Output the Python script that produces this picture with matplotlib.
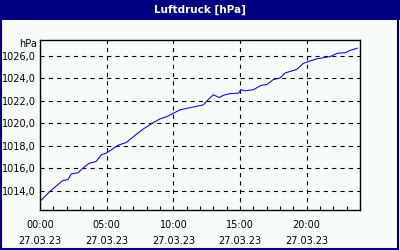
import matplotlib
matplotlib.use('Agg')
import matplotlib.pyplot as plt
from matplotlib.patches import Rectangle
from matplotlib.ticker import FixedLocator, MultipleLocator, FuncFormatter

# Pressure readings over the day (hours since midnight, hPa)
hours = [0.0, 0.8, 1.7, 2.1, 2.35, 2.85, 3.2, 3.7, 4.2, 4.6, 4.97, 5.85, 6.47,
         7.25, 7.75, 8.4, 9.0, 9.5, 10.0, 10.5, 11.25, 12.25, 12.6, 13.0,
         13.45, 13.75, 14.25, 14.9, 15.05, 15.4, 16.0, 16.6, 17.0, 17.5,
         18.0, 18.4, 19.25, 19.75, 20.1, 20.75, 21.75, 22.3, 22.9, 23.25, 23.8]
pressure = [1013.05, 1014.0, 1014.9, 1015.0, 1015.5, 1015.6, 1016.0, 1016.45,
            1016.6, 1017.2, 1017.35, 1018.05, 1018.3, 1019.05, 1019.5, 1020.0,
            1020.4, 1020.6, 1020.9, 1021.2, 1021.4, 1021.65, 1022.1, 1022.55,
            1022.3, 1022.5, 1022.65, 1022.7, 1023.0, 1022.9, 1023.0, 1023.4,
            1023.45, 1023.9, 1024.05, 1024.5, 1024.8, 1025.35, 1025.5, 1025.75,
            1025.95, 1026.25, 1026.3, 1026.5, 1026.7]

x_ticks = [0, 5, 10, 15, 20]
x_labels = ['00:00\n27.03.23', '05:00\n27.03.23', '10:00\n27.03.23',
            '15:00\n27.03.23', '20:00\n27.03.23']
y_ticks = [1014, 1016, 1018, 1020, 1022, 1024, 1026]

navy = '#000080'
bg = '#f8fcf8'

fig = plt.figure(figsize=(4, 2.5), dpi=100, facecolor=bg)

# title bar + frame
fig.patches.append(Rectangle((0, 230 / 250), 1, 20 / 250, transform=fig.transFigure,
                             facecolor=navy, edgecolor='none', zorder=0))
fig.patches.append(Rectangle((0.002, 0.004), 0.994, 0.99, transform=fig.transFigure,
                             facecolor='none', edgecolor=navy, linewidth=1.5, zorder=1))
fig.text(0.5, 240 / 250, 'Luftdruck [hPa]', color='white', fontsize=7.5,
         fontweight='bold', ha='center', va='center')

ax = fig.add_axes([40 / 400, 40 / 250, 320 / 400, 170 / 250])
ax.set_facecolor(bg)
ax.plot(hours, pressure, color='#0000ff', linewidth=0.75)

ax.set_xlim(0, 24)
ax.set_ylim(1012.28, 1027.43)

ax.xaxis.set_major_locator(FixedLocator(x_ticks))
ax.set_xticklabels(x_labels, linespacing=1.75)
ax.xaxis.set_minor_locator(MultipleLocator(1))
ax.yaxis.set_major_locator(FixedLocator(y_ticks))
ax.yaxis.set_major_formatter(FuncFormatter(lambda v, p: f'{v:.1f}'.replace('.', ',')))

ax.grid(True, color='black', linestyle=(0, (3.75, 3.75)), linewidth=0.8)
ax.tick_params(axis='x', which='major', length=0, pad=7, labelsize=7)
ax.tick_params(axis='x', which='minor', direction='in', length=3, width=0.8)
ax.tick_params(axis='y', length=0, pad=3, labelsize=7)
for s in ax.spines.values():
    s.set_linewidth(1)
    s.set_color('black')

fig.text(37 / 400, 206 / 250, 'hPa', fontsize=7, ha='right', va='center')

plt.savefig('out.png', dpi=100, facecolor=bg)
